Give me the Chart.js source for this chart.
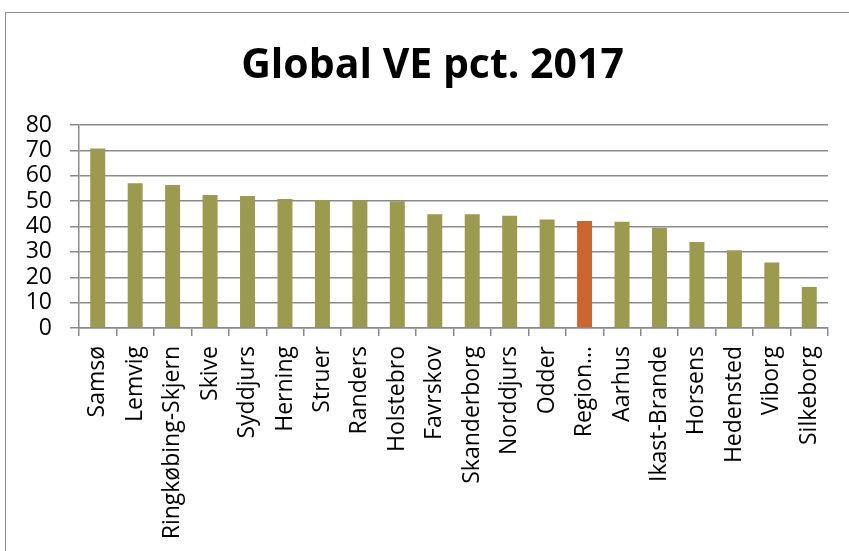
<!DOCTYPE html>
<html>
<head>
<meta charset="utf-8">
<script src="https://cdn.jsdelivr.net/npm/chart.js@4"></script>
<style>
  html, body { margin: 0; padding: 0; background: #fff; overflow: hidden; }
  #wrap { position: relative; width: 849px; height: 551px; }
  #frame { position: absolute; left: 5px; top: 12px; width: 900px; height: 600px; border: 1px solid #8d8d8d; }
  canvas { position: absolute; left: 0; top: 0; }
</style>
</head>
<body>
<div id="wrap">
  <div id="frame"></div>
  <canvas id="veChart" width="849" height="551"></canvas>
</div>
<script>
// Global VE pct. 2017 - kommuner i Region Midtjylland
const chartTitle = 'Global VE pct. 2017';

const kommuner = [
    'Samsø', 'Lemvig', 'Ringkøbing-Skjern', 'Skive', 'Syddjurs', 'Herning', 'Struer',
    'Randers', 'Holstebro', 'Favrskov', 'Skanderborg', 'Norddjurs', 'Odder', 'Region…',
    'Aarhus', 'Ikast-Brande', 'Horsens', 'Hedensted', 'Viborg', 'Silkeborg'
];

const vePct = [
    70.7, 57.0, 56.4, 52.4, 52.0, 50.8, 50.4,
    50.3, 50.0, 44.8, 44.8, 44.2, 42.8, 42.2,
    41.9, 39.5, 33.9, 30.6, 25.8, 16.2
];

const yTicks = [0, 10, 20, 30, 40, 50, 60, 70, 80];

const OLIVE = '#9b9a4f';
const ORANGE = '#cc6631';
const GRID = '#8a8a8a';
const FONT = "'Open Sans', sans-serif";

const barColors = kommuner.map(k => k.startsWith('Region') ? ORANGE : OLIVE);

// title drawn centred over the whole frame, not just the canvas box layout
const titlePlugin = {
    id: 'frameTitle',
    afterDraw(chart) {
        const ctx = chart.ctx;
        ctx.save();
        ctx.font = "bold 41px " + FONT;
        ctx.fillStyle = '#000';
        ctx.textAlign = 'center';
        ctx.textBaseline = 'alphabetic';
        ctx.fillText(chartTitle, 432.5, 78);
        ctx.restore();
    }
};

new Chart(document.getElementById('veChart'), {
    type: 'bar',
    data: {
        labels: kommuner,
        datasets: [{
            label: chartTitle,
            data: vePct,
            backgroundColor: barColors,
            barPercentage: 0.4,
            categoryPercentage: 1.0
        }]
    },
    options: {
        responsive: false,
        animation: false,
        layout: { padding: { top: 125, right: 21, bottom: 0, left: 0 } },
        plugins: {
            legend: { display: false },
            title: { display: false },
            tooltip: { enabled: false }
        },
        scales: {
            x: {
                grid: {
                    drawOnChartArea: false,
                    drawTicks: true,
                    tickLength: 8,
                    color: GRID,
                    lineWidth: 1.5
                },
                border: { display: true, color: GRID, width: 1.5 },
                ticks: {
                    color: '#000',
                    font: { family: FONT, size: 23 },
                    minRotation: 90,
                    maxRotation: 90,
                    autoSkip: false,
                    padding: 10
                },
                afterFit(scale) { scale.height = 223; }
            },
            y: {
                min: 0,
                max: 80,
                afterBuildTicks(scale) { scale.ticks = yTicks.map(v => ({ value: v })); },
                grid: {
                    color: GRID,
                    lineWidth: 1.5,
                    tickLength: 9
                },
                border: { display: true, color: GRID, width: 1.5 },
                ticks: {
                    color: '#000',
                    font: { family: FONT, size: 23 },
                    autoSkip: false,
                    padding: 18
                },
                afterFit(scale) { scale.width = 79; }
            }
        }
    },
    plugins: [titlePlugin]
});
</script>
</body>
</html>
